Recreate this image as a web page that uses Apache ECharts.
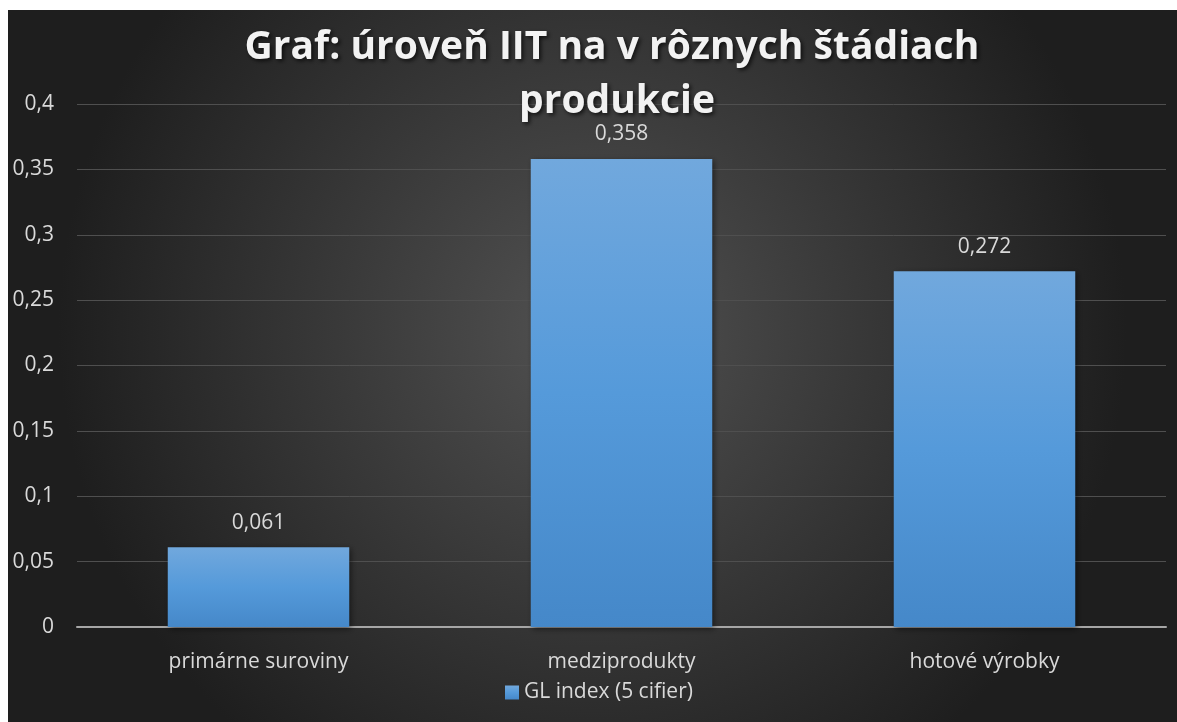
<!DOCTYPE html>
<html>
<head>
<meta charset="utf-8">
<script src="https://cdn.jsdelivr.net/npm/echarts@6/dist/echarts.min.js"></script>
<style>
  html, body { margin: 0; padding: 0; background: #fff; }
  #chart { position: absolute; left: 8px; top: 10px; width: 1169px; height: 712px; }
</style>
</head>
<body>
<div id="chart"></div>
<script>
const titleText = "Graf: úroveň IIT na v rôznych štádiach produkcie";
const seriesName = "GL index (5 cifier)";
const categories = ["primárne suroviny", "medziprodukty", "hotové výrobky"];
const values = [0.061, 0.358, 0.272];

const fmt = v => String(+v.toFixed(3)).replace(".", ",");

const myChart = echarts.init(document.getElementById("chart"));
myChart.setOption({
  backgroundColor: {
    type: "radial",
    x: 0.5,
    y: 0.45,
    r: 0.75,
    colorStops: [
      { offset: 0, color: "#525252" },
      { offset: 1, color: "#1e1e1e" }
    ]
  },
  textStyle: { fontFamily: "Open Sans" },
  title: {
    text: titleText,
    left: 604,
    textAlign: "center",
    top: 6,
    textStyle: {
      color: "#f2f2f2",
      fontSize: 39,
      fontWeight: "bold",
      fontFamily: "Open Sans",
      width: 860,
      overflow: "break",
      lineHeight: 54,
      textShadowColor: "rgba(0,0,0,0.7)",
      textShadowBlur: 4,
      textShadowOffsetX: 2,
      textShadowOffsetY: 2
    }
  },
  legend: {
    top: 667,
    left: 492,
    itemWidth: 14,
    itemHeight: 14,
    itemGap: 6,
    icon: "rect",
    textStyle: { color: "#d9d9d9", fontSize: 21, fontFamily: "Open Sans" },
    data: [seriesName]
  },
  grid: {
    left: 69,
    right: 11,
    top: 94,
    bottom: 95,
    containLabel: false
  },
  xAxis: {
    type: "category",
    data: categories,
    axisLine: { lineStyle: { color: "#a6a6a6", width: 2 } },
    axisTick: { show: false },
    axisLabel: { color: "#d9d9d9", fontSize: 21, margin: 25 }
  },
  yAxis: {
    type: "value",
    min: 0,
    max: 0.4,
    interval: 0.05,
    axisLine: { show: false },
    axisTick: { show: false },
    splitLine: { lineStyle: { color: "#4f4f4f", width: 1 } },
    axisLabel: { color: "#d9d9d9", fontSize: 21, margin: 23, formatter: fmt }
  },
  series: [
    {
      name: seriesName,
      type: "bar",
      barWidth: "50%",
      data: values,
      itemStyle: {
        color: {
          type: "linear",
          x: 0, y: 0, x2: 0, y2: 1,
          colorStops: [
            { offset: 0, color: "#71a8dd" },
            { offset: 0.5, color: "#559ada" },
            { offset: 1, color: "#4588c9" }
          ]
        },
        shadowColor: "rgba(0,0,0,0.5)",
        shadowBlur: 6,
        shadowOffsetX: 2,
        shadowOffsetY: 2
      },
      label: {
        show: true,
        position: "top",
        distance: 14,
        color: "#d9d9d9",
        fontSize: 21,
        formatter: p => fmt(p.value)
      }
    }
  ]
});
</script>
</body>
</html>
